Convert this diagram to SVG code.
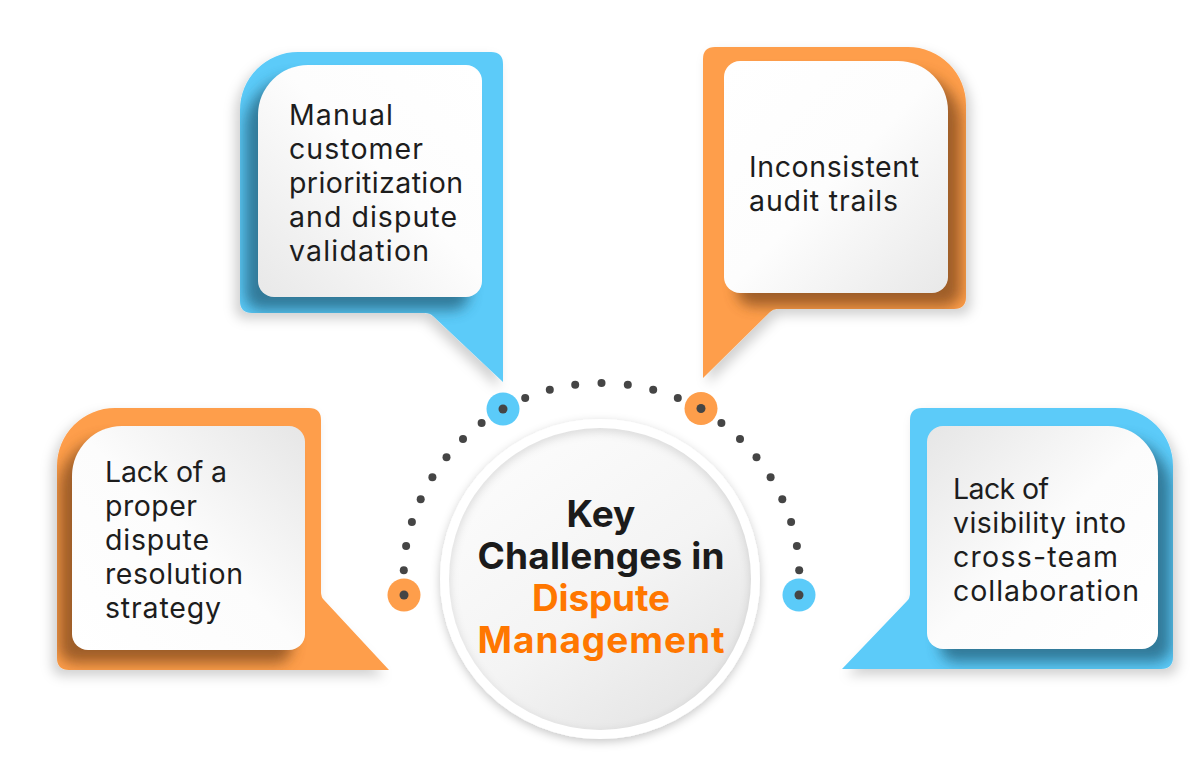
<svg xmlns="http://www.w3.org/2000/svg" width="1200" height="772" viewBox="0 0 1200 772">
<defs>
  <style>
    .blue{fill:#5BCBF9}
    .orange{fill:#FE9E4B}
    .dotc{fill:#454545}
    .lbl{font-family:Inter,"Open Sans","DejaVu Sans",sans-serif;font-size:28.5px;fill:#1d1d1d;font-weight:400}
    .ttl{font-family:Inter,"Open Sans","DejaVu Sans",sans-serif;font-size:37px;font-weight:650;text-anchor:middle}
    .dark{fill:#1b1b1b}
    .org{fill:#FF7700}
  </style>
  <filter id="outerL" x="-20%" y="-20%" width="140%" height="140%">
    <feDropShadow dx="-5" dy="6" stdDeviation="6" flood-color="#000" flood-opacity="0.18"/>
  </filter>
  <filter id="outerR" x="-20%" y="-20%" width="140%" height="140%">
    <feDropShadow dx="5" dy="6" stdDeviation="6" flood-color="#000" flood-opacity="0.18"/>
  </filter>
  <filter id="soft" x="-20%" y="-20%" width="140%" height="140%">
    <feGaussianBlur stdDeviation="7"/>
  </filter>
  <filter id="circShadow" x="-20%" y="-20%" width="140%" height="140%">
    <feDropShadow dx="0" dy="3" stdDeviation="5" flood-color="#000" flood-opacity="0.22"/>
  </filter>
  <filter id="blur4" x="-20%" y="-20%" width="140%" height="140%">
    <feGaussianBlur stdDeviation="5"/>
  </filter>
  <linearGradient id="gTL" x1="0" y1="1" x2="1" y2="0">
    <stop offset="0" stop-color="#e8e8e8"/><stop offset="0.55" stop-color="#fdfdfd"/><stop offset="1" stop-color="#ffffff"/>
  </linearGradient>
  <linearGradient id="gTR" x1="0" y1="0" x2="1" y2="1">
    <stop offset="0" stop-color="#ffffff"/><stop offset="0.5" stop-color="#fdfdfd"/><stop offset="1" stop-color="#e8e8e8"/>
  </linearGradient>
  <linearGradient id="gBL" x1="0" y1="1" x2="1" y2="0">
    <stop offset="0" stop-color="#ffffff"/><stop offset="0.5" stop-color="#fcfcfc"/><stop offset="1" stop-color="#e6e6e6"/>
  </linearGradient>
  <linearGradient id="gBR" x1="1" y1="1" x2="0" y2="0">
    <stop offset="0" stop-color="#ffffff"/><stop offset="0.5" stop-color="#fcfcfc"/><stop offset="1" stop-color="#e6e6e6"/>
  </linearGradient>
  <linearGradient id="gCirc" x1="0.2" y1="0.1" x2="0.85" y2="1">
    <stop offset="0" stop-color="#fbfbfb"/><stop offset="0.5" stop-color="#f4f4f4"/><stop offset="1" stop-color="#e3e3e3"/>
  </linearGradient>
  <path id="cardTL" d="M258,115 A50,50 0 0 1 308,65 L466,65 A16,16 0 0 1 482,81 L482,281 A16,16 0 0 1 466,297 L274,297 A16,16 0 0 1 258,281 Z"/>
  <path id="cardTR" d="M740,61 L898,61 A50,50 0 0 1 948,111 L948,277 A16,16 0 0 1 932,293 L740,293 A16,16 0 0 1 724,277 L724,77 A16,16 0 0 1 740,61 Z"/>
  <path id="cardBL" d="M72,476 A50,50 0 0 1 122,426 L289,426 A16,16 0 0 1 305,442 L305,634 A16,16 0 0 1 289,650 L88,650 A16,16 0 0 1 72,634 Z"/>
  <path id="cardBR" d="M943,426 L1108,426 A50,50 0 0 1 1158,476 L1158,633 A16,16 0 0 1 1142,649 L943,649 A16,16 0 0 1 927,633 L927,442 A16,16 0 0 1 943,426 Z"/>
  <clipPath id="clipTL"><path d="M240,110 A58,58 0 0 1 298,52 L491,52 Q503,52 503,64 L503,382 L433,316 Q430,313 425,313 L252,313 Q240,313 240,301 Z"/></clipPath>
  <clipPath id="clipTR"><path d="M715,47 L908,47 A58,58 0 0 1 966,105 L966,297 Q966,309 954,309 L777,309 Q773,309 770,312 L703,378 L703,59 Q703,47 715,47 Z"/></clipPath>
  <clipPath id="clipBL"><path d="M57,466 A58,58 0 0 1 115,408 L309,408 Q321,408 321,420 L321,592 Q321,597 324,600 L389,670 L69,670 Q57,670 57,658 Z"/></clipPath>
  <clipPath id="clipBR"><path d="M922,408 L1115,408 A58,58 0 0 1 1173,466 L1173,657 Q1173,669 1161,669 L842,669 L907,601 Q910,598 910,593 L910,420 Q910,408 922,408 Z"/></clipPath>
  <clipPath id="clipCirc"><circle cx="600" cy="579" r="151"/></clipPath>
</defs>

<rect width="1200" height="772" fill="#ffffff"/>

<g id="connectors">
  <g class="dotc">
    <circle cx="525.2" cy="398.1" r="4"/><circle cx="549.8" cy="389.7" r="4"/><circle cx="575.2" cy="384.7" r="4"/>
    <circle cx="601.5" cy="383" r="4"/>
    <circle cx="627.8" cy="384.7" r="4"/><circle cx="653.2" cy="389.7" r="4"/><circle cx="677.8" cy="398.1" r="4"/>
    <circle cx="481.6" cy="423.1" r="4"/><circle cx="463.0" cy="439.1" r="4"/><circle cx="446.5" cy="457.2" r="4"/>
    <circle cx="432.4" cy="477.2" r="4"/><circle cx="420.7" cy="499.2" r="4"/><circle cx="411.9" cy="522.1" r="4"/>
    <circle cx="406.1" cy="545.9" r="4"/><circle cx="403.8" cy="570.3" r="4"/>
    <circle cx="721.4" cy="423.1" r="4"/><circle cx="740.0" cy="439.1" r="4"/><circle cx="756.5" cy="457.2" r="4"/>
    <circle cx="770.6" cy="477.2" r="4"/><circle cx="782.3" cy="499.2" r="4"/><circle cx="791.1" cy="522.1" r="4"/>
    <circle cx="796.9" cy="545.9" r="4"/><circle cx="799.2" cy="570.3" r="4"/>
  </g>
  <circle class="blue" cx="503" cy="409" r="16.5"/><circle class="dotc" cx="503" cy="409" r="4.5"/>
  <circle class="orange" cx="701" cy="408.5" r="16.5"/><circle class="dotc" cx="701" cy="408.5" r="4.5"/>
  <circle class="orange" cx="404" cy="595" r="16.5"/><circle class="dotc" cx="404" cy="595" r="4.5"/>
  <circle class="blue" cx="799" cy="595" r="16.5"/><circle class="dotc" cx="799" cy="595" r="4.5"/>
</g>

<g id="node-manual">
  <path class="blue" filter="url(#outerL)" d="M240,110 A58,58 0 0 1 298,52 L491,52 Q503,52 503,64 L503,382 L433,316 Q430,313 425,313 L252,313 Q240,313 240,301 Z"/>
  <g clip-path="url(#clipTL)">
    <use href="#cardTL" fill="#2c6c88" opacity="0.85" transform="translate(-13,13)" filter="url(#soft)"/>
  </g>
  <use href="#cardTL" fill="url(#gTL)"/>
  <text class="lbl" x="289" y="125" textLength="104" lengthAdjust="spacing">Manual</text>
  <text class="lbl" x="289" y="159" textLength="134" lengthAdjust="spacing">customer</text>
  <text class="lbl" x="289" y="193" textLength="174" lengthAdjust="spacing">prioritization</text>
  <text class="lbl" x="289" y="227" textLength="168" lengthAdjust="spacing">and dispute</text>
  <text class="lbl" x="289" y="261" textLength="140" lengthAdjust="spacing">validation</text>
</g>

<g id="node-audit">
  <path class="orange" filter="url(#outerR)" d="M715,47 L908,47 A58,58 0 0 1 966,105 L966,297 Q966,309 954,309 L777,309 Q773,309 770,312 L703,378 L703,59 Q703,47 715,47 Z"/>
  <g clip-path="url(#clipTR)">
    <use href="#cardTR" fill="#8e5224" opacity="0.85" transform="translate(13,13)" filter="url(#soft)"/>
  </g>
  <use href="#cardTR" fill="url(#gTR)"/>
  <text class="lbl" x="749" y="177" textLength="170" lengthAdjust="spacing">Inconsistent</text>
  <text class="lbl" x="749" y="211" textLength="149" lengthAdjust="spacing">audit trails</text>
</g>

<g id="node-strategy">
  <path class="orange" filter="url(#outerL)" d="M57,466 A58,58 0 0 1 115,408 L309,408 Q321,408 321,420 L321,592 Q321,597 324,600 L389,670 L69,670 Q57,670 57,658 Z"/>
  <g clip-path="url(#clipBL)">
    <use href="#cardBL" fill="#8e5224" opacity="0.85" transform="translate(-13,13)" filter="url(#soft)"/>
  </g>
  <use href="#cardBL" fill="url(#gBL)"/>
  <text class="lbl" x="105" y="482" textLength="122" lengthAdjust="spacing">Lack of a</text>
  <text class="lbl" x="105" y="516" textLength="92" lengthAdjust="spacing">proper</text>
  <text class="lbl" x="105" y="550" textLength="104" lengthAdjust="spacing">dispute</text>
  <text class="lbl" x="105" y="584" textLength="138" lengthAdjust="spacing">resolution</text>
  <text class="lbl" x="105" y="618" textLength="116" lengthAdjust="spacing">strategy</text>
</g>

<g id="node-visibility">
  <path class="blue" filter="url(#outerR)" d="M922,408 L1115,408 A58,58 0 0 1 1173,466 L1173,657 Q1173,669 1161,669 L842,669 L907,601 Q910,598 910,593 L910,420 Q910,408 922,408 Z"/>
  <g clip-path="url(#clipBR)">
    <use href="#cardBR" fill="#2c6c88" opacity="0.85" transform="translate(13,13)" filter="url(#soft)"/>
  </g>
  <use href="#cardBR" fill="url(#gBR)"/>
  <text class="lbl" x="953" y="499" textLength="96" lengthAdjust="spacing">Lack of</text>
  <text class="lbl" x="953" y="533" textLength="173" lengthAdjust="spacing">visibility into</text>
  <text class="lbl" x="953" y="567" textLength="165" lengthAdjust="spacing">cross-team</text>
  <text class="lbl" x="953" y="601" textLength="186" lengthAdjust="spacing">collaboration</text>
</g>

<g id="node-center">
  <circle cx="600" cy="579" r="160" fill="#ffffff" filter="url(#circShadow)"/>
  <circle cx="600" cy="579" r="151" fill="url(#gCirc)"/>
  <g clip-path="url(#clipCirc)">
    <circle cx="600" cy="582" r="156" fill="none" stroke="#000" stroke-opacity="0.14" stroke-width="10" filter="url(#blur4)"/>
  </g>
  <text class="ttl dark" x="601" y="527">Key</text>
  <text class="ttl dark" x="601" y="569" textLength="247" lengthAdjust="spacing">Challenges in</text>
  <text class="ttl org" x="601" y="611" textLength="138" lengthAdjust="spacing">Dispute</text>
  <text class="ttl org" x="601" y="653" textLength="247" lengthAdjust="spacing">Management</text>
</g>
</svg>
